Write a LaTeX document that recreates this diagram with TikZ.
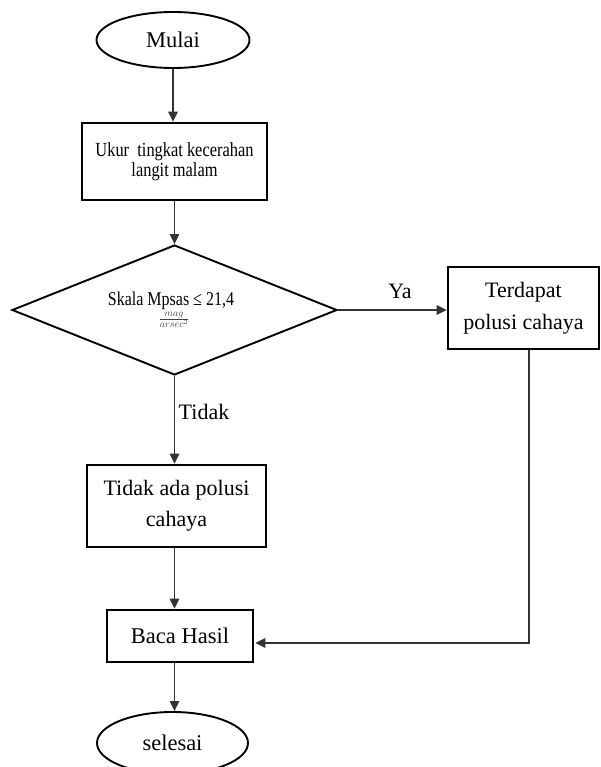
\documentclass[tikz,border=0pt]{standalone}
\usepackage{fontspec}
\setmainfont{Liberation Serif}
\newfontfamily\condfont[FakeStretch=0.82]{Liberation Serif}
\usetikzlibrary{shapes.geometric,arrows.meta,calc}
\begin{document}
\begin{tikzpicture}[x=1pt,y=-1pt,
  box/.style={draw, line width=2.6pt, inner sep=0pt, align=center},
  term/.style={draw, ellipse, line width=1.9pt, inner sep=0pt, font=\fontsize{22.5}{26}\selectfont},
  conn/.style={line width=1.2pt, draw=black!80, -{Triangle[length=10pt,width=9.5pt]}},
  lbl/.style={font=\fontsize{22}{26}\selectfont, inner sep=0pt}]
\useasboundingbox (0,0) rectangle (600,767);

\node[term, minimum width=153pt, minimum height=56pt] (mulai) at (173,40) {Mulai};
\node[box, minimum width=185pt, minimum height=77pt, font=\condfont\fontsize{20}{20}\selectfont] (ukur) at (174.5,161.5) {Ukur\ \ tingkat kecerahan\\langit malam};
\node[draw, diamond, line width=1.9pt, minimum width=325pt, minimum height=130pt, inner sep=0pt] (dec) at (174.5,310) {};
\node[font=\condfont\fontsize{19.5}{19.5}\selectfont, inner sep=0pt] (sk) at (171,301) {Skala Mpsas ≤ 21,4};
\node[font=\fontsize{14}{14}\selectfont, inner sep=0pt, text=black!75] (fr) at (174,320) {$\frac{mag}{arsec^2}$};
\node[box, minimum width=151pt, minimum height=82pt, font=\fontsize{22}{32}\selectfont] (terdapat) at (523.5,308) {Terdapat\\polusi cahaya};
\node[box, minimum width=179pt, minimum height=82pt, font=\fontsize{22}{31}\selectfont] (tidak) at (176.5,506) {Tidak ada polusi\\cahaya};
\node[box, minimum width=146pt, minimum height=52pt, font=\fontsize{22.5}{26}\selectfont] (baca) at (180,636) {Baca Hasil};
\node[term, minimum width=151pt, minimum height=62pt] (selesai) at (172.5,743) {selesai};

\node[lbl] (ya) at (400,291) {Ya};
\node[lbl] (tdk) at (204,412) {Tidak};

\draw[conn] (mulai.south) -- (mulai.south |- ukur.north);
\draw[conn] (ukur.south -| dec.north) -- (dec.north);
\draw[conn] (dec.east) -- (dec.east -| terdapat.west);
\draw[conn] (dec.south) -- (dec.south |- tidak.north);
\draw[conn] (dec.south |- tidak.south) -- (dec.south |- baca.north);
\draw[conn] ([xshift=5.5pt]terdapat.south) |- ($(baca.east)+(1,7)$);
\draw[conn] (dec.south |- baca.south) -- (dec.south |- selesai.north);
\end{tikzpicture}
\end{document}
